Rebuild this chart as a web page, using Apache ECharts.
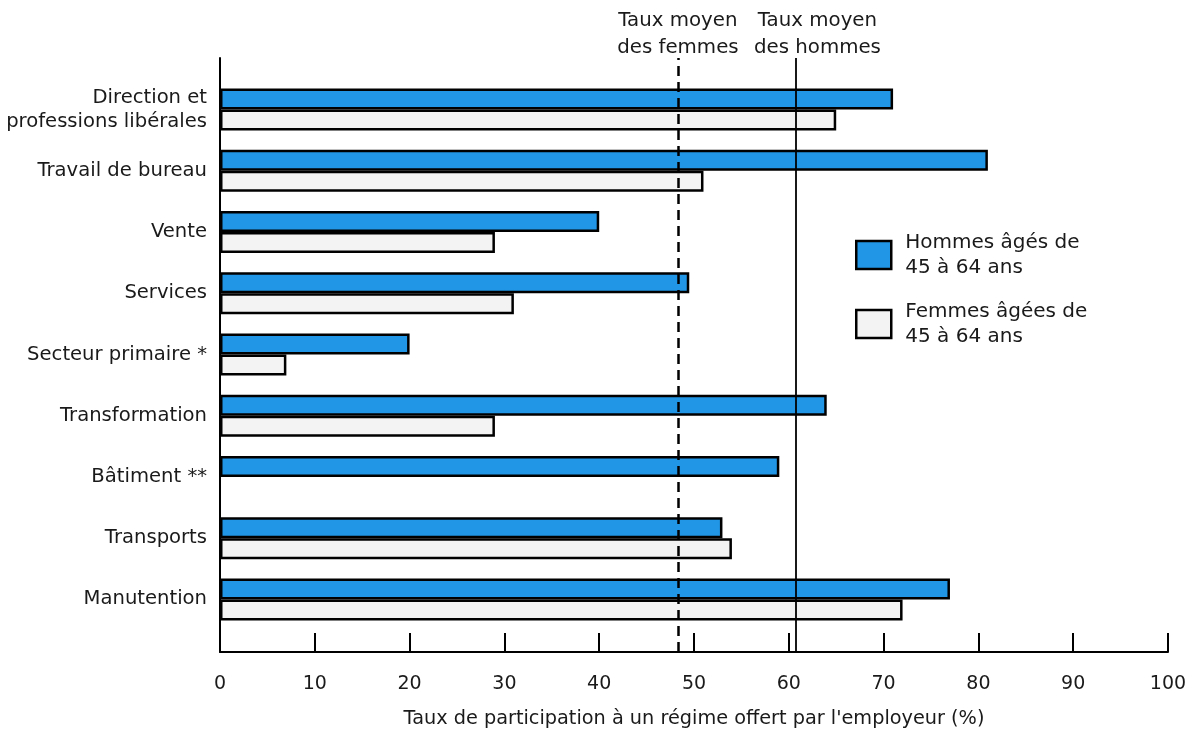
<!DOCTYPE html>
<html>
<head>
<meta charset="utf-8">
<script src="https://cdn.jsdelivr.net/npm/echarts@6/dist/echarts.min.js"></script>
<style>
  html, body { margin: 0; padding: 0; background: #fff; }
  #chart { width: 1193px; height: 732px; }
</style>
</head>
<body>
<div id="chart"></div>
<script>
// categories, top to bottom
var categories = [
  'Direction et\nprofessions libérales',
  'Travail de bureau',
  'Vente',
  'Services',
  'Secteur primaire *',
  'Transformation',
  'Bâtiment **',
  'Transports',
  'Manutention'
];
var hommes = [71, 81, 40, 49.5, 20, 64, 59, 53, 77];
var femmes = [65, 51, 29, 31, 7, 29, null, 54, 72];

var tauxMoyenFemmes = 48.3;
var tauxMoyenHommes = 60.7;

var xTicks = { min: 0, max: 100, interval: 10 };

var FONT = 'DejaVu Sans';
var chart = echarts.init(document.getElementById('chart'));

var option = {
  backgroundColor: '#ffffff',
  textStyle: { fontFamily: FONT, color: '#1a1a1a' },
  animation: false,
  grid: [
    // bars
    { left: 220, right: 25, top: 79, height: 551, outerBoundsMode: 'none', containLabel: false },
    // axes frame
    { left: 220, right: 25, top: 58, height: 594, outerBoundsMode: 'none', containLabel: false }
  ],
  legend: {
    orient: 'vertical',
    left: 850,
    top: 225,
    itemWidth: 35,
    itemHeight: 28,
    itemGap: 19,
    icon: 'rect',
    itemStyle: { borderColor: '#000', borderWidth: 2.5 },
    textStyle: { fontSize: 20, lineHeight: 25, color: '#1a1a1a', fontFamily: FONT, padding: [0, 0, 0, 9] },
    data: ['Hommes âgés de\n45 à 64 ans', 'Femmes âgées de\n45 à 64 ans']
  },
  xAxis: [
    { gridIndex: 0, type: 'value', min: xTicks.min, max: xTicks.max, interval: xTicks.interval, show: false },
    {
      gridIndex: 1, type: 'value', min: xTicks.min, max: xTicks.max, interval: xTicks.interval,
      axisLine: { show: true, lineStyle: { color: '#000', width: 2 } },
      axisTick: { show: true, inside: true, length: 19, lineStyle: { color: '#000', width: 2 } },
      axisLabel: { fontSize: 19, color: '#1a1a1a', margin: 23, fontFamily: FONT },
      splitLine: { show: false },
      name: "Taux de participation à un régime offert par l'employeur (%)",
      nameLocation: 'middle',
      nameGap: 57,
      nameTextStyle: { fontSize: 19.3, color: '#1a1a1a', fontFamily: FONT }
    }
  ],
  yAxis: [
    {
      gridIndex: 0, type: 'category', inverse: true, data: categories,
      axisLine: { show: false },
      axisTick: { show: false },
      axisLabel: { fontSize: 19.6, lineHeight: 24, color: '#1a1a1a', margin: 13, fontFamily: FONT }
    },
    {
      gridIndex: 1, type: 'value', min: 0, max: 1,
      axisLine: { show: true, lineStyle: { color: '#000', width: 2 } },
      axisTick: { show: false },
      axisLabel: { show: false },
      splitLine: { show: false }
    }
  ],
  series: [
    {
      name: 'Hommes âgés de\n45 à 64 ans',
      type: 'bar',
      xAxisIndex: 0, yAxisIndex: 0,
      data: hommes,
      barWidth: 21,
      barGap: '0%',
      itemStyle: { color: '#2196e6', borderColor: '#000', borderWidth: 2.5 }
    },
    {
      name: 'Femmes âgées de\n45 à 64 ans',
      type: 'bar',
      xAxisIndex: 0, yAxisIndex: 0,
      data: femmes,
      barWidth: 21,
      barGap: '0%',
      itemStyle: { color: '#f3f3f3', borderColor: '#000', borderWidth: 2.5 }
    },
    {
      name: 'moyennes',
      type: 'line',
      xAxisIndex: 1, yAxisIndex: 1,
      data: [],
      z: 5,
      markLine: {
        silent: true,
        symbol: 'none',
        data: [
          {
            xAxis: tauxMoyenFemmes,
            lineStyle: { color: '#000', width: 2.5, type: [10, 6] },
            label: { show: true, position: 'end', formatter: 'Taux moyen\ndes femmes', fontSize: 19.8, lineHeight: 27, color: '#1a1a1a', fontFamily: FONT, distance: 0, offset: [0, 3] }
          },
          {
            xAxis: tauxMoyenHommes,
            lineStyle: { color: '#000', width: 1.8, type: 'solid' },
            label: { show: true, position: 'end', formatter: 'Taux moyen\ndes hommes', fontSize: 19.8, lineHeight: 27, color: '#1a1a1a', fontFamily: FONT, distance: 0, offset: [22, 3] }
          }
        ]
      }
    }
  ]
};

chart.setOption(option);
</script>
</body>
</html>
